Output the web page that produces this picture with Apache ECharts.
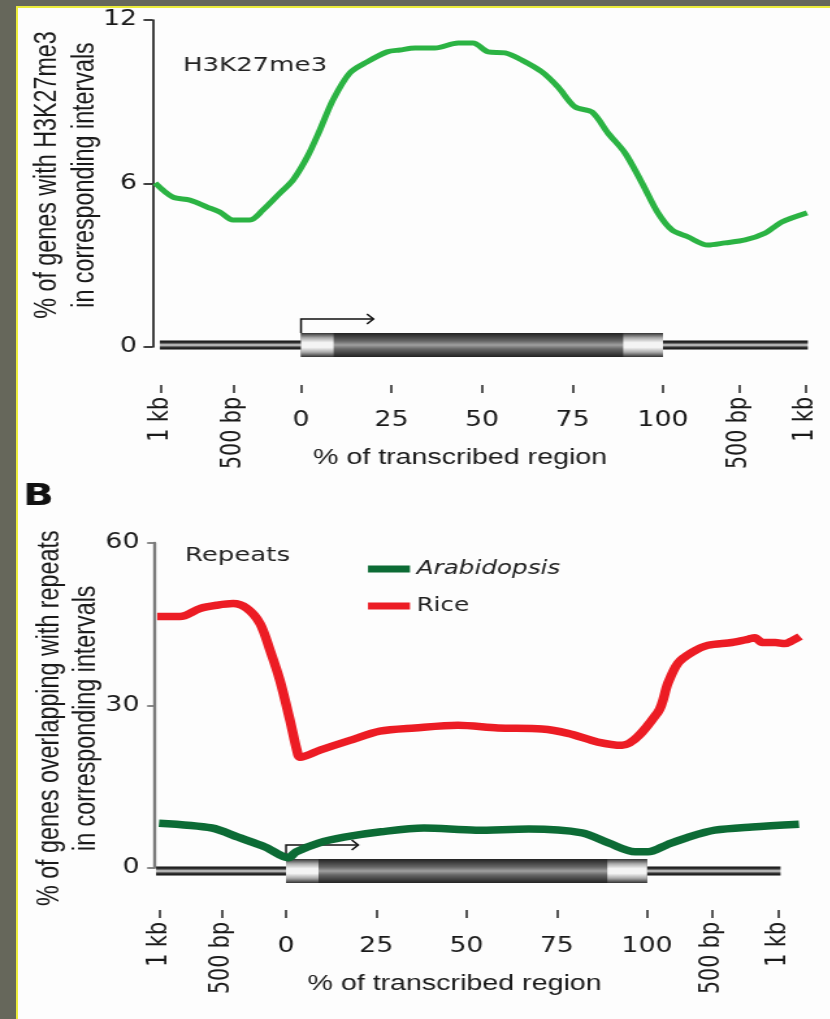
<!DOCTYPE html>
<html>
<head>
<meta charset="utf-8">
<script src="https://cdn.jsdelivr.net/npm/echarts@6/dist/echarts.min.js"></script>
<style>
html,body{margin:0;padding:0;width:830px;height:1019px;overflow:hidden;background:#66675b;}
#frame{position:absolute;left:16px;top:6px;width:814px;height:1013px;background:#fdfdfd;border-top:2px solid #ecec3a;border-left:2px solid #ecec3a;box-sizing:border-box;}
#chart{position:absolute;left:0;top:0;height:1019px;transform-origin:0 0;}
</style>
</head>
<body>
<div id="frame"></div>
<div id="chart"></div>
<script>
// ---------------- DATA ----------------
// x = position along the meta-gene (0..100 = % of transcribed region; outside = flanks)
const xTickLabels = ['1 kb', '500 bp', '0', '25', '50', '75', '100', '500 bp', '1 kb'];
const xTickPosA   = [-38.7, -18.5, 0, 25, 50, 75, 100, 121.2, 139.4];
const xTickPosB   = [-35.2, -17.7, 0, 25, 50, 75, 100, 118, 136.3];

// Panel A: H3K27me3
const h3k27Pos = [-40.3, -35.4, -30.7, -26.0, -22.4, -18.8, -14.1, -10.5, -5.8, -2.2, 1.7, 5.2, 8.8, 13.5, 18.2, 23.8, 27.3, 31.5, 37.0, 43.4, 47.5, 51.7, 56.4, 61.0, 66.6, 71.0, 75.7, 80.4, 84.8, 89.5, 94.2, 98.6, 102.5, 106.9, 112.4, 117.1, 122.7, 128.2, 132.9, 139.8];
const h3k27Val = [6.02, 5.50, 5.39, 5.14, 4.95, 4.66, 4.66, 5.03, 5.65, 6.13, 6.97, 7.96, 9.06, 10.06, 10.46, 10.83, 10.90, 10.97, 10.97, 11.16, 11.16, 10.83, 10.79, 10.53, 10.09, 9.54, 8.81, 8.62, 7.85, 7.12, 6.02, 4.92, 4.29, 4.04, 3.74, 3.82, 3.93, 4.18, 4.59, 4.92];

// Panel B: Repeats
const ricePos = [-35.7, -29.4, -23.8, -19.1, -14.7, -10.8, -7.2, -4.4, -1.7, 1.1, 3.0, 3.9, 9.4, 17.7, 26.0, 35.7, 47.6, 58.7, 70.9, 78.1, 86.4, 93.1, 103.0, 105.8, 108.6, 112.5, 116.9, 123.5, 128.0, 129.9, 131.9, 135.5, 138.2, 140.4, 142.4];
const riceVal = [46.4, 46.4, 47.9, 48.5, 48.8, 47.9, 45.1, 40.1, 34.6, 27.2, 21.7, 20.4, 21.7, 23.5, 25.2, 25.8, 26.3, 25.8, 25.6, 24.8, 23.2, 22.6, 28.7, 34.1, 37.8, 39.8, 41.1, 41.6, 42.2, 42.5, 41.6, 41.6, 41.4, 42.0, 42.7];
const arabPos = [-35.2, -20.5, -13.3, -5.8, 0.6, 2.8, 8.9, 16.1, 26.3, 38.2, 52.6, 67.3, 82.0, 89.5, 96.7, 100.3, 105.5, 111.4, 118.8, 129.1, 142.1];
const arabVal = [8.2, 7.3, 5.6, 3.8, 1.8, 2.9, 4.5, 5.6, 6.6, 7.3, 6.9, 7.1, 6.4, 4.5, 2.9, 2.9, 4.2, 5.6, 6.9, 7.5, 8.0];

// Gene model (axis units)
const geneFlankA = [-39, 140];
const geneFlankB = [-36, 137];
const transcript = [0, 100];
const utrEdges = [9, 89];
const tssArrowEnd = 20;

// ---------------- LAYOUT ----------------
const S = 1.3; // the original figure is stretched horizontally
const W = 830 / S;
const el = document.getElementById('chart');
el.style.width = W + 'px';
el.style.transform = 'scaleX(' + S + ')';
const px = v => v / S;

const zip = (a, b) => a.map((x, i) => [x, b[i]]);
const isNum = s => /^\d+$/.test(s);
function labelFor(pos) {
  return function (v) {
    let best = 0, d = Infinity;
    pos.forEach((p, i) => { const dd = Math.abs(p - v); if (dd < d) { d = dd; best = i; } });
    return xTickLabels[best];
  };
}
const numPos = pos => pos.filter((_, i) => isNum(xTickLabels[i]));
const kbPos = pos => pos.filter((_, i) => !isNum(xTickLabels[i]));

const grad = stops => new echarts.graphic.LinearGradient(0, 0, 0, 1, stops.map((c, i) => ({offset: i / (stops.length - 1), color: c})));

function geneRenderer(flank, dy) {
  return function (params, api) {
    const yc = api.coord([0, 0])[1] + dy;
    const X = v => api.coord([v, 0])[0];
    const lineH = 9, boxH = 24, rise = 14;
    const top = yc - boxH / 2;
    const xa = X(tssArrowEnd), xt0 = X(transcript[0]), xt1 = X(transcript[1]);
    return {
      type: 'group',
      children: [
        {type: 'rect', shape: {x: X(flank[0]), y: yc - lineH / 2, width: X(flank[1]) - X(flank[0]), height: lineH},
          style: {fill: grad(['#111', '#333', '#d8d8d8', '#333', '#111'])}},
        {type: 'rect', shape: {x: xt0, y: top, width: xt1 - xt0, height: boxH},
          style: {fill: grad(['#222', '#444', '#666', '#a0a0a0', '#666', '#444', '#222'])}},
        {type: 'rect', shape: {x: xt0, y: top, width: X(utrEdges[0]) - xt0, height: boxH},
          style: {fill: grad(['#333', '#aaa', '#f4f4f4', '#f4f4f4', '#aaa', '#333'])}},
        {type: 'rect', shape: {x: X(utrEdges[1]), y: top, width: xt1 - X(utrEdges[1]), height: boxH},
          style: {fill: grad(['#333', '#aaa', '#f4f4f4', '#f4f4f4', '#aaa', '#333'])}},
        {type: 'polyline', shape: {points: [[xt0, top], [xt0, top - rise], [xa, top - rise]]},
          style: {stroke: '#111', lineWidth: 1.5, fill: null}},
        {type: 'polyline', shape: {points: [[xa - 5, top - rise - 5], [xa, top - rise], [xa - 5, top - rise + 5]]},
          style: {stroke: '#111', lineWidth: 1.5, fill: null}}
      ]
    };
  };
}

const tickFont = {fontFamily: 'DejaVu Sans', fontSize: 20.6, color: '#1a1a1a'};
const nameFont = {fontFamily: 'Liberation Sans', fontSize: 23.3, lineHeight: 28.5, color: '#1a1a1a'};

function xAxes(grid, min, max, pos, offset, gapNum, nameGap, namePad) {
  return [
    {type: 'value', gridIndex: grid, min: min, max: max, position: 'bottom', offset: offset,
      axisLine: {show: false, onZero: false}, splitLine: {show: false},
      axisTick: {show: true, customValues: pos, length: 8, lineStyle: {color: '#222', width: 1.5}},
      axisLabel: Object.assign({customValues: numPos(pos), formatter: labelFor(pos), margin: gapNum}, tickFont),
      name: '% of transcribed region', nameLocation: 'middle', nameGap: nameGap, nameMoveOverlap: false,
      nameTextStyle: {fontFamily: 'Liberation Sans', fontSize: 22, color: '#1a1a1a', padding: namePad}},
    {type: 'value', gridIndex: grid, min: min, max: max, position: 'bottom', offset: offset,
      axisLine: {show: false, onZero: false}, splitLine: {show: false}, axisTick: {show: false},
      axisLabel: Object.assign({customValues: kbPos(pos), formatter: labelFor(pos), rotate: 90, margin: 12}, tickFont)}
  ];
}

const option = {
  animation: false,
  textStyle: {fontFamily: 'DejaVu Sans'},
  title: [
    {text: 'H3K27me3', left: px(183), top: 56, padding: 0,
      textStyle: {fontFamily: 'DejaVu Sans', fontSize: 20, fontWeight: 'normal', color: '#222'}},
    {text: 'B', left: px(23), top: 481, padding: 0,
      textStyle: {fontFamily: 'DejaVu Sans', fontSize: 31, fontWeight: 'bold', color: '#111'}},
    {text: 'Repeats', left: px(185), top: 546, padding: 0,
      textStyle: {fontFamily: 'DejaVu Sans', fontSize: 20, fontWeight: 'normal', color: '#222'}}
  ],
  legend: {
    orient: 'vertical', left: px(368), top: 558, padding: 0,
    itemWidth: px(42), itemHeight: 7, itemGap: 15, icon: 'rect',
    data: ['Arabidopsis', 'Rice'],
    formatter: n => n === 'Arabidopsis' ? '{i|' + n + '}' : n,
    textStyle: {fontFamily: 'DejaVu Sans', fontSize: 19, color: '#222', lineHeight: 22,
      rich: {i: {fontFamily: 'DejaVu Sans', fontStyle: 'italic', fontSize: 19, color: '#222', lineHeight: 22}}}
  },
  grid: [
    {left: px(152.6), top: 20, width: px(655.2), height: 327, outerBoundsMode: 'none'},
    {left: px(155), top: 543, width: px(647.2), height: 324.5, outerBoundsMode: 'none'}
  ],
  xAxis: [].concat(
    xAxes(0, -41, 140, xTickPosA, 38, 25, 62, [0, 31, 0, 0]),
    xAxes(1, -36.3, 143, xTickPosB, 42.5, 26, 63, [0, 37, 0, 0])
  ),
  yAxis: [
    {type: 'value', gridIndex: 0, min: 0, max: 12, interval: 6,
      axisLine: {show: true, onZero: false, lineStyle: {color: '#111', width: 1.6}},
      axisTick: {show: true, length: 7, lineStyle: {color: '#111', width: 1.6}},
      axisLabel: Object.assign({margin: 12}, tickFont), splitLine: {show: false},
      name: '% of genes with H3K27me3\nin corresponding intervals', nameLocation: 'middle', nameRotate: 90,
      nameGap: 38, nameMoveOverlap: false,
      nameTextStyle: Object.assign({padding: [0, 0, 0, 17]}, nameFont)},
    {type: 'value', gridIndex: 1, min: 0, max: 60, interval: 30,
      axisLine: {show: true, onZero: false, lineStyle: {color: '#7b7b7b', width: 2.4}},
      axisTick: {show: true, length: 6, lineStyle: {color: '#7b7b7b', width: 1.8}},
      axisLabel: Object.assign({margin: 12}, tickFont), splitLine: {show: false},
      name: '% of genes overlapping with repeats\nin corresponding intervals', nameLocation: 'middle', nameRotate: 90,
      nameGap: 38, nameMoveOverlap: false,
      nameTextStyle: Object.assign({padding: [0, 26, 0, 0]}, nameFont)}
  ],
  series: [
    {type: 'custom', name: 'gene A', xAxisIndex: 0, yAxisIndex: 0, z: 1, silent: true,
      renderItem: geneRenderer(geneFlankA, -2), data: [[0, 0]]},
    {type: 'custom', name: 'gene B', xAxisIndex: 2, yAxisIndex: 1, z: 1, silent: true,
      renderItem: geneRenderer(geneFlankB, 3.5), data: [[0, 0]]},
    {type: 'line', name: 'H3K27me3', xAxisIndex: 0, yAxisIndex: 0, z: 3, data: zip(h3k27Pos, h3k27Val),
      smooth: 0.3, showSymbol: false, lineStyle: {color: '#2bb343', width: 5}, itemStyle: {color: '#2bb343'}},
    {type: 'line', name: 'Arabidopsis', xAxisIndex: 2, yAxisIndex: 1, z: 3, data: zip(arabPos, arabVal),
      smooth: 0.3, showSymbol: false, lineStyle: {color: '#0c6b35', width: 7.5}, itemStyle: {color: '#0c6b35'}},
    {type: 'line', name: 'Rice', xAxisIndex: 2, yAxisIndex: 1, z: 3, data: zip(ricePos, riceVal),
      smooth: 0.3, showSymbol: false, lineStyle: {color: '#ec1c24', width: 7.5}, itemStyle: {color: '#ec1c24'}}
  ]
};

const chart = echarts.init(el, null, {width: W, height: 1019});
chart.setOption(option);
</script>
</body>
</html>
